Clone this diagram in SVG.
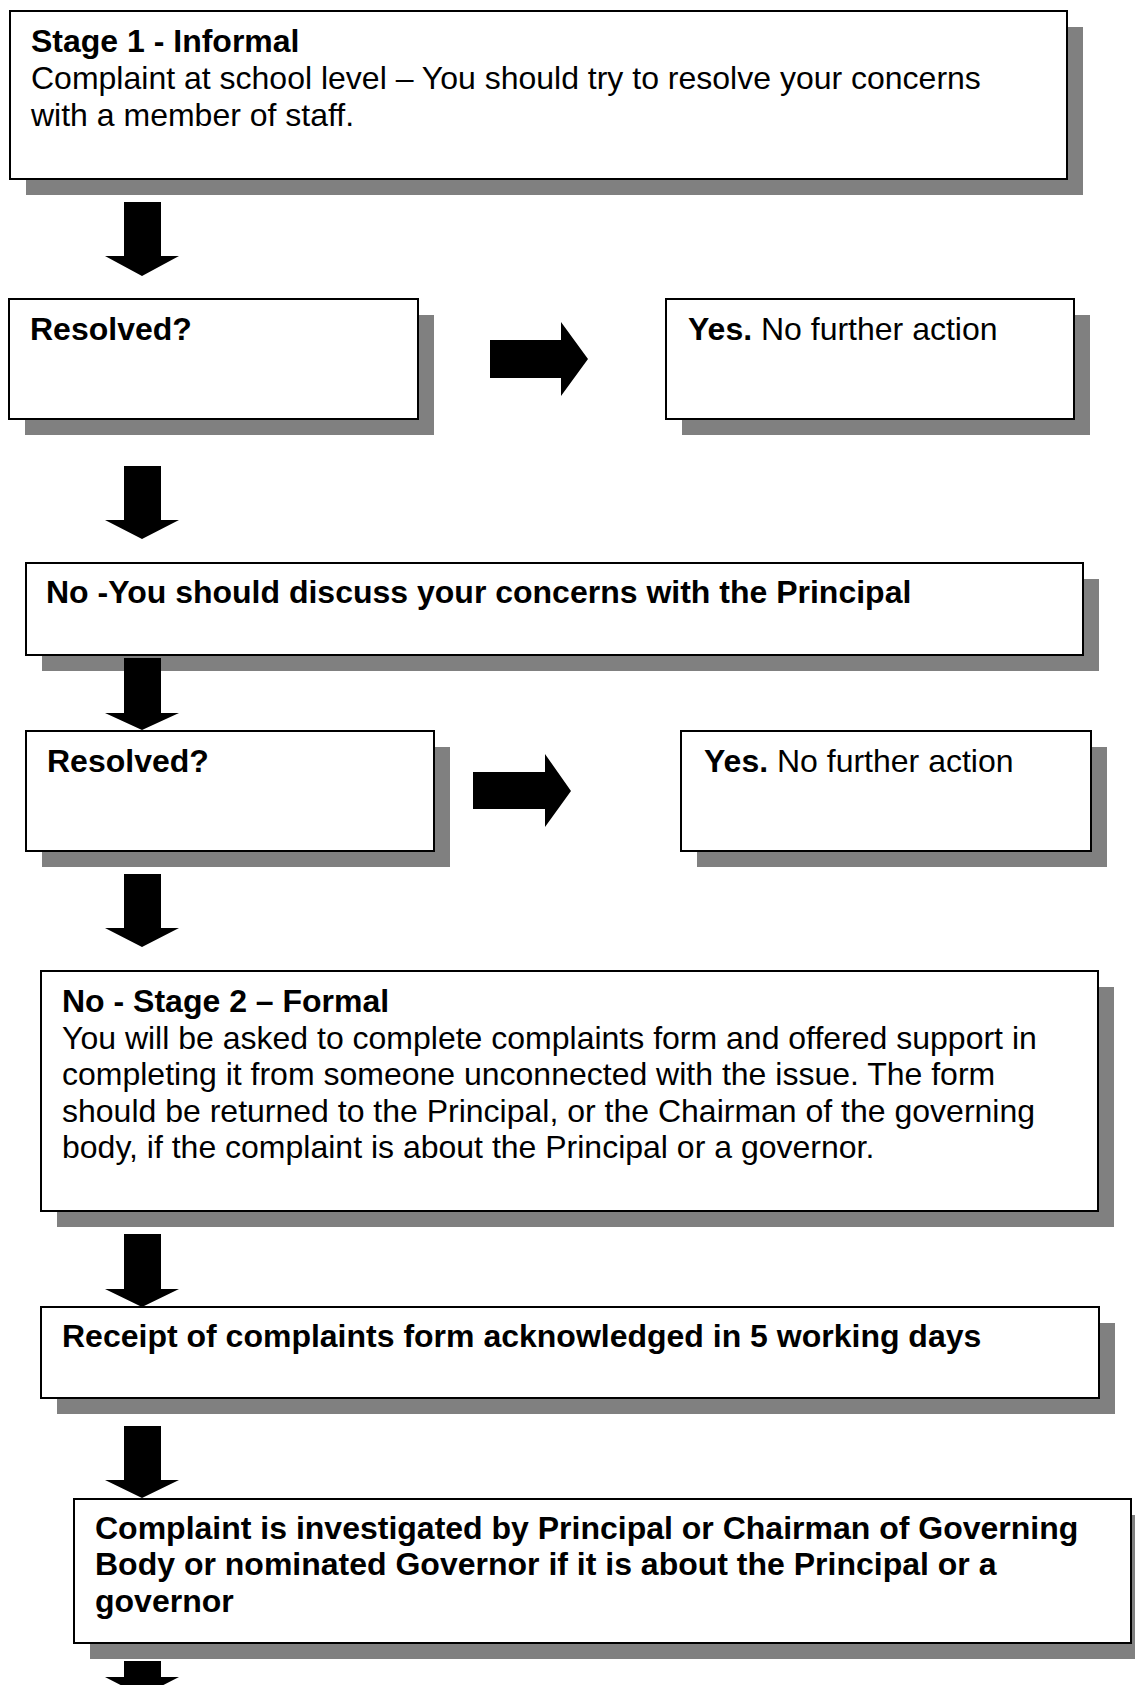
<svg xmlns="http://www.w3.org/2000/svg" width="1135" height="1685" viewBox="0 0 1135 1685">
<style>
.box{fill:#fff;stroke:#000;stroke-width:2}
.sh{fill:#808080}
.t{font-family:"Liberation Sans",Arial,sans-serif;font-size:32px;fill:#000}
.b{font-weight:bold}
.arr{fill:#000}
</style>
<rect width="1135" height="1685" fill="#fff"/>
<g id="n1">
<rect class="sh" x="26" y="27" width="1057" height="168"/>
<rect class="box" x="10" y="11" width="1057" height="168"/>
<text class="t" x="31" y="52"><tspan class="b">Stage 1 - Informal</tspan><tspan x="31" y="89">Complaint at school level – You should try to resolve your concerns</tspan><tspan x="31" y="126">with a member of staff.</tspan></text>
</g>
<g id="n2">
<rect class="sh" x="25" y="315" width="409" height="120"/>
<rect class="box" x="9" y="299" width="409" height="120"/>
<text class="t b" x="30" y="340">Resolved?</text>
</g>
<g id="n3">
<rect class="sh" x="682" y="315" width="408" height="120"/>
<rect class="box" x="666" y="299" width="408" height="120"/>
<text class="t" x="688" y="340"><tspan class="b">Yes.</tspan> No further action</text>
</g>
<g id="n4">
<rect class="sh" x="42" y="579" width="1057" height="92"/>
<rect class="box" x="26" y="563" width="1057" height="92"/>
<text class="t b" x="46" y="603">No -You should discuss your concerns with the Principal</text>
</g>
<g id="n5">
<rect class="sh" x="42" y="747" width="408" height="120"/>
<rect class="box" x="26" y="731" width="408" height="120"/>
<text class="t b" x="47" y="772">Resolved?</text>
</g>
<g id="n6">
<rect class="sh" x="697" y="747" width="410" height="120"/>
<rect class="box" x="681" y="731" width="410" height="120"/>
<text class="t" x="704" y="772"><tspan class="b">Yes.</tspan> No further action</text>
</g>
<g id="n7">
<rect class="sh" x="57" y="987" width="1057" height="240"/>
<rect class="box" x="41" y="971" width="1057" height="240"/>
<text class="t" x="62" y="1012"><tspan class="b">No - Stage 2 – Formal</tspan><tspan x="62" y="1048.5">You will be asked to complete complaints form and offered support in</tspan><tspan x="62" y="1085">completing it from someone unconnected with the issue. The form</tspan><tspan x="62" y="1121.5">should be returned to the Principal, or the Chairman of the governing</tspan><tspan x="62" y="1158">body, if the complaint is about the Principal or a governor.</tspan></text>
</g>
<g id="n8">
<rect class="sh" x="57" y="1323" width="1058" height="91"/>
<rect class="box" x="41" y="1307" width="1058" height="91"/>
<text class="t b" x="62" y="1347">Receipt of complaints form acknowledged in 5 working days</text>
</g>
<g id="n9">
<rect class="sh" x="90" y="1515" width="1057" height="144"/>
<rect class="box" x="74" y="1499" width="1057" height="144"/>
<text class="t b" x="95" y="1538.5">Complaint is investigated by Principal or Chairman of Governing<tspan x="95" y="1575">Body or nominated Governor if it is about the Principal or a</tspan><tspan x="95" y="1611.5">governor</tspan></text>
</g>
<g id="connectors">
<polygon class="arr" points="124,202 161,202 161,256 179,256 142,276 105,256 124,256"/>
<polygon class="arr" points="124,466 161,466 161,520 179,520 142,539 105,520 124,520"/>
<polygon class="arr" points="124,658 161,658 161,713 179,713 142,730 105,713 124,713"/>
<polygon class="arr" points="124,874 161,874 161,928 179,928 142,947 105,928 124,928"/>
<polygon class="arr" points="124,1234 161,1234 161,1289 179,1289 142,1307 105,1289 124,1289"/>
<polygon class="arr" points="124,1426 161,1426 161,1480 179,1480 142,1498 105,1480 124,1480"/>
<polygon class="arr" points="124,1661 161,1661 161,1677 179,1677 142,1696 105,1677 124,1677"/>
<polygon class="arr" points="490,340 561,340 561,322 588,359 561,396 561,378 490,378"/>
<polygon class="arr" points="473,772 545,772 545,754 571,791 545,827 545,809 473,809"/>
</g>
</svg>
